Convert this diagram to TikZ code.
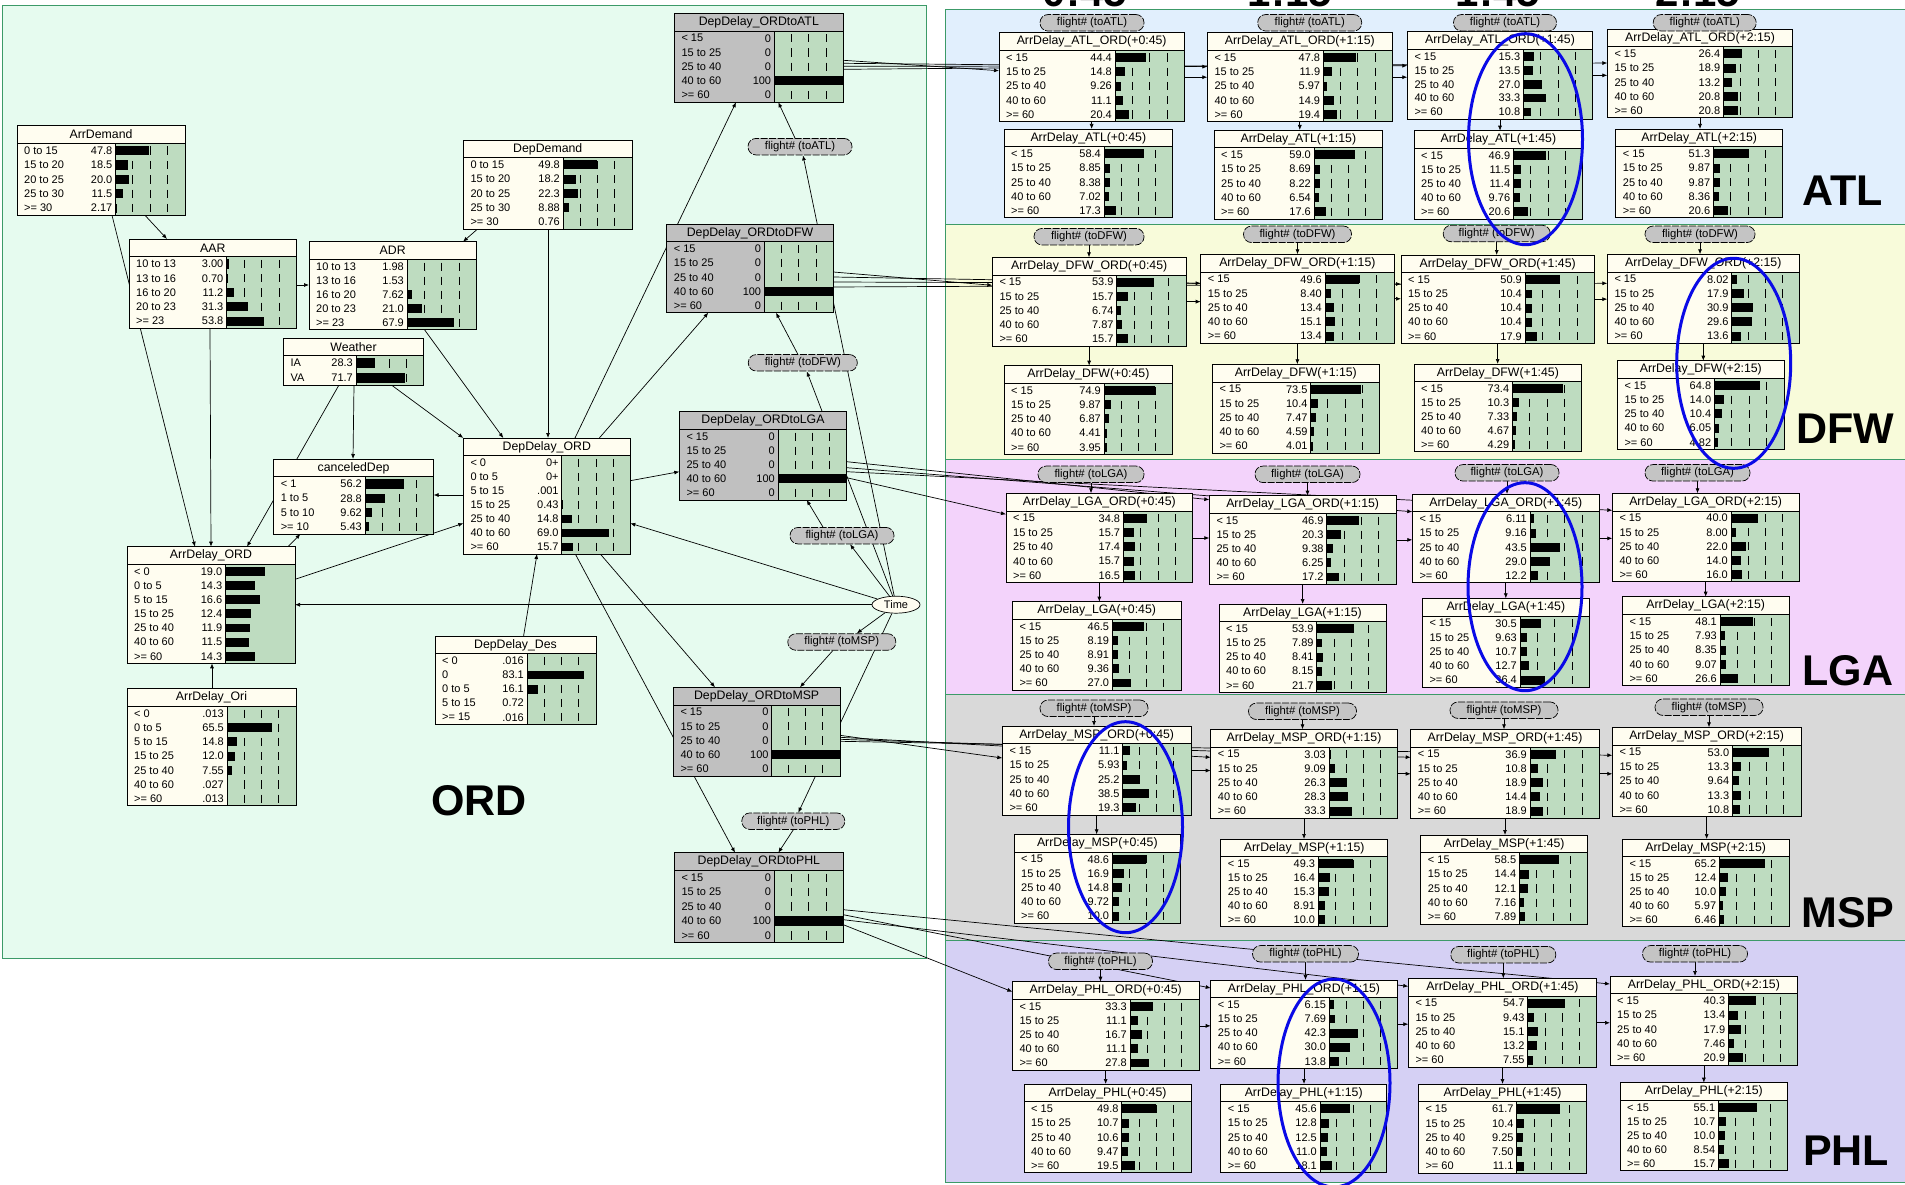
\documentclass[tikz,border=0pt]{standalone}
\usepackage{fontspec}
\setmainfont{Liberation Sans}
\usetikzlibrary{arrows.meta,calc,shapes.geometric}
\pgfdeclarelayer{back}
\pgfdeclarelayer{edges}
\pgfsetlayers{back,edges,main}
\definecolor{cream}{HTML}{FFFDF0}
\definecolor{bargreen}{HTML}{BEDCC0}
\definecolor{nodegray}{HTML}{C0C0C0}
\definecolor{fltgray}{HTML}{C4C4C4}
\definecolor{ordbg}{HTML}{E6FBEF}
\definecolor{atlbg}{HTML}{E1EFFD}
\definecolor{dfwbg}{HTML}{F8FBDA}
\definecolor{lgabg}{HTML}{F3D3FB}
\definecolor{mspbg}{HTML}{D9D9D9}
\definecolor{phlbg}{HTML}{D5D0F4}
\definecolor{regline}{HTML}{3C9A68}
\definecolor{ellblue}{HTML}{0A0AE6}

\newif\ifBNticks \BNtickstrue
\def\BNmul{1}
\newcommand\BN[9][cream]{%
  \pgfmathsetmacro\BNtb{#4+17.8}%
  \pgfmathsetmacro\BNw{#5-#3}%
  \pgfmathsetmacro\BNh{#6-#4}%
  \node[inner sep=0pt,outer sep=0pt,minimum width=\BNw pt,minimum height=\BNh pt,anchor=north west] (#2) at (#3,#4) {};%
  \fill[#1] (#3,#4) rectangle (#5,\BNtb);%
  \fill[#1] (#3,\BNtb) rectangle (#7,#6);%
  \fill[bargreen] (#7,\BNtb) rectangle (#5,#6);%
  \foreach \BNla/\BNva/\BNpa [count=\BNi] in #9 {\xdef\BNn{\BNi}}%
  \pgfmathsetmacro\BNrh{(#6-\BNtb)/\BNn}%
  \foreach \BNla/\BNva/\BNpa [count=\BNi] in #9 {%
    \pgfmathsetmacro\BNrt{\BNtb+(\BNi-1)*\BNrh}%
    \pgfmathsetmacro\BNrb{\BNrt+\BNrh}%
    \pgfmathsetmacro\BNrc{(\BNrt+\BNrb)/2}%
    \ifBNticks
      \foreach \BNf in {0.25,0.5,0.75}{\draw[tickln] ({#7+\BNf*(#5-#7)},{\BNrt+3}) -- ({#7+\BNf*(#5-#7)},{\BNrb-3});}%
    \fi
    \pgfmathsetmacro\BNbl{#7+min(1,\BNpa/100*\BNmul)*(#5-#7)}%
    \fill[black] (#7,{\BNrt+2.6}) rectangle (\BNbl,{\BNrb-2.6});%
    \node[rowtxt,anchor=west] at ({#3+7},\BNrc) {\BNla};%
    \node[rowtxt,anchor=east] at ({#7-3},\BNrc) {\BNva};%
  }%
  \draw[boxln] (#3,#4) rectangle (#5,#6);%
  \draw[boxln] (#3,\BNtb) -- (#5,\BNtb);%
  \draw[boxln] (#7,\BNtb) -- (#7,#6);%
  \node[titletxt] at ({(#3+#5)/2},{(#4+\BNtb)/2}) {#8};%
}
\def\ADmk#1,#2,#3,#4,#5\relax{\def\currows{< 15/#1/#1,15 to 25/#2/#2,25 to 40/#3/#3,40 to 60/#4/#4,>= 60/#5/#5}}
\newcommand\AD[8]{\ADmk#8\relax\BN{#1}{#2}{#3}{#4}{#5}{#6}{#7}{\currows}}
\def\ordrows{< 15/0/0,15 to 25/0/0,25 to 40/0/0,40 to 60/100/100,>= 60/0/0}

\begin{document}
\begin{tikzpicture}[x=1pt,y=-1pt,
  rowtxt/.style={inner sep=0pt,font=\fontsize{11}{12}\selectfont},
  titletxt/.style={inner sep=0pt,font=\fontsize{12.3}{14}\selectfont},
  boxln/.style={draw=black,line width=0.9pt},
  tickln/.style={draw=black,line width=0.9pt},
  flt/.style={draw=black,fill=fltgray,rounded corners=8pt,minimum height=16.5pt,inner sep=0pt,line width=0.7pt,dash pattern=on 7pt off 1.5pt,font=\fontsize{11.3}{12}\selectfont},
  conn/.style={draw=black,line width=0.7pt,-{Latex[length=5pt,width=4pt]}},
  regbox/.style={draw=regline,line width=1pt},
  reglbl/.style={inner sep=0pt,font=\fontsize{43}{50}\selectfont\bfseries},
  hdr/.style={inner sep=0pt,font=\fontsize{42}{48}\selectfont\bfseries},
  blueell/.style={draw=ellblue,line width=3pt}]
\useasboundingbox (0,0) rectangle (1905,1185);
\begin{pgfonlayer}{back}
  \fill[white] (0,0) rectangle (1905,1185);
  \draw[regbox,fill=ordbg] (2,5.5) rectangle (926.5,958.5);
  \draw[regbox,fill=atlbg] (945,9.3) rectangle (1915,224);
  \draw[regbox,fill=dfwbg] (945,224) rectangle (1915,459);
  \draw[regbox,fill=lgabg] (945,459) rectangle (1915,694.3);
  \draw[regbox,fill=mspbg] (945,694.3) rectangle (1915,940.7);
  \draw[regbox,fill=phlbg] (945,940.7) rectangle (1915,1182);
\end{pgfonlayer}

\begin{scope}
\clip (0,0) rectangle (1905,1185);
\node[hdr,anchor=base] (H1) at (1085,7) {0:45};
\node[hdr,anchor=base] (H2) at (1290,7) {1:15};
\node[hdr,anchor=base] (H3) at (1498,7) {1:45};
\node[hdr,anchor=base] (H4) at (1698,7) {2:15};
\end{scope}

% region labels
\node[reglbl] (lORD) at (479,801) {ORD};
\node[reglbl] (lATL) at (1843,191) {ATL};
\node[reglbl] (lDFW) at (1845,428.5) {DFW};
\node[reglbl] (lLGA) at (1848,671) {LGA};
\node[reglbl] (lMSP) at (1848,913) {MSP};
\node[reglbl] (lPHL) at (1846,1151) {PHL};

% ---------------- ORD network ----------------
\def\currows{0 to 15/47.8/47.8,15 to 20/18.5/18.5,20 to 25/20.0/20,25 to 30/11.5/11.5,>= 30/2.17/2.17}
\BN{ArrDemand}{17}{125.7}{185}{215.3}{115.5}{ArrDemand}{\currows}
\def\currows{10 to 13/3.00/3,13 to 16/0.70/0.7,16 to 20/11.2/11.2,20 to 23/31.3/31.3,>= 23/53.8/53.8}
\BN{AAR}{129}{239}{296.7}{328.3}{226.5}{AAR}{\currows}
\def\currows{10 to 13/1.98/1.98,13 to 16/1.53/1.53,16 to 20/7.62/7.62,20 to 23/21.0/21,>= 23/67.9/67.9}
\BN{ADR}{309}{241.7}{476.3}{329.7}{407}{ADR}{\currows}
\def\currows{0 to 15/49.8/49.8,15 to 20/18.2/18.2,20 to 25/22.3/22.3,25 to 30/8.88/8.88,>= 30/0.76/0.76}
\BN{DepDemand}{463.3}{140}{632.2}{229}{563}{DepDemand}{\currows}
\def\currows{IA/28.3/28.3,VA/71.7/71.7}
\BN{Weather}{283.3}{338}{423.7}{385.3}{356}{Weather}{\currows}
\def\currows{< 1/56.2/56.2,1 to 5/28.8/28.8,5 to 10/9.62/9.62,>= 10/5.43/5.43}
\BN{canceledDep}{273.6}{459}{433.6}{534}{365}{canceledDep}{\currows}
\def\BNmul{3}\BNticksfalse
\def\currows{< 0/19.0/19,0 to 5/14.3/14.3,5 to 15/16.6/16.6,15 to 25/12.4/12.4,25 to 40/11.9/11.9,40 to 60/11.5/11.5,>= 60/14.3/14.3}
\BN{ArrDelayORD}{127}{546.7}{295}{663.3}{225.4}{ArrDelay\_ORD}{\currows}
\def\BNmul{1}\BNtickstrue
\def\currows{< 0/.013/0.013,0 to 5/65.5/65.5,5 to 15/14.8/14.8,15 to 25/12.0/12,25 to 40/7.55/7.55,40 to 60/.027/0.027,>= 60/.013/0.013}
\BN{ArrDelayOri}{127}{688.7}{296}{805.7}{227}{ArrDelay\_Ori}{\currows}
\def\currows{< 0/0+/0,0 to 5/0+/0,5 to 15/.001/0.001,15 to 25/0.43/0.43,25 to 40/14.8/14.8,40 to 60/69.0/69,>= 60/15.7/15.7}
\BN{DepDelayORD}{463.3}{438}{630.3}{554}{561.8}{DepDelay\_ORD}{\currows}
\def\currows{< 0/.016/0.016,0/83.1/83.1,0 to 5/16.1/16.1,5 to 15/0.72/0.72,>= 15/.016/0.016}
\BN{DepDelayDes}{435}{636}{596}{724.3}{527}{DepDelay\_Des}{\currows}
\BN[nodegray]{toATL}{674.3}{13.3}{843.3}{102.3}{774.3}{DepDelay\_ORDtoATL}{\ordrows}
\BN[nodegray]{toDFW}{666.7}{224}{833.3}{312.7}{764.3}{DepDelay\_ORDtoDFW}{\ordrows}
\BN[nodegray]{toLGA}{679.3}{411.7}{846.7}{500}{778}{DepDelay\_ORDtoLGA}{\ordrows}
\BN[nodegray]{toMSP}{673.3}{687.3}{840}{776}{771.7}{DepDelay\_ORDtoMSP}{\ordrows}
\BN[nodegray]{toPHL}{674.3}{852.7}{843.3}{942.7}{774.3}{DepDelay\_ORDtoPHL}{\ordrows}

\node[flt,minimum width=104pt] (fA0) at (800,146.7) {flight\# (toATL)};
\node[flt,minimum width=109pt] (fD0) at (802.8,362.8) {flight\# (toDFW)};
\node[flt,minimum width=104pt] (fL0) at (842,535.7) {flight\# (toLGA)};
\node[flt,minimum width=108pt] (fM0) at (841.8,642) {flight\# (toMSP)};
\node[flt,minimum width=103pt] (fP0) at (793.3,821.2) {flight\# (toPHL)};
\node[draw=black,fill=cream,ellipse,minimum width=48pt,minimum height=17pt,inner sep=0pt,line width=0.7pt,font=\fontsize{11}{12}\selectfont] (Time) at (896,604.7) {Time};

% ---------------- ATL ----------------
\AD{AO1}{999}{32.7}{1184.3}{121.7}{1115}{ArrDelay\_ATL\_ORD(+0:45)}{44.4,14.8,9.26,11.1,20.4}
\AD{A1}{1004}{129}{1172.7}{217.7}{1104}{ArrDelay\_ATL(+0:45)}{58.4,8.85,8.38,7.02,17.3}
\AD{AO2}{1207.3}{32.7}{1392.3}{121.7}{1323.3}{ArrDelay\_ATL\_ORD(+1:15)}{47.8,11.9,5.97,14.9,19.4}
\AD{A2}{1214}{130}{1382.7}{219}{1314}{ArrDelay\_ATL(+1:15)}{59.0,8.69,8.22,6.54,17.6}
\AD{AO3}{1407.3}{31.7}{1592.7}{119}{1523.3}{ArrDelay\_ATL\_ORD(+1:45)}{15.3,13.5,27.0,33.3,10.8}
\AD{A3}{1414}{130.7}{1582.7}{219}{1513.3}{ArrDelay\_ATL(+1:45)}{46.9,11.5,11.4,9.76,20.6}
\AD{AO4}{1607.3}{29}{1792.7}{117.7}{1723.3}{ArrDelay\_ATL\_ORD(+2:15)}{26.4,18.9,13.2,20.8,20.8}
\AD{A4}{1615.7}{129}{1782.7}{217.7}{1713.3}{ArrDelay\_ATL(+2:15)}{51.3,9.87,9.87,8.36,20.6}
% ---------------- DFW ----------------
\AD{DO1}{992.3}{257.3}{1186}{346}{1116.7}{ArrDelay\_DFW\_ORD(+0:45)}{53.9,15.7,6.74,7.87,15.7}
\AD{D1}{1004}{365.7}{1172.7}{454.3}{1104}{ArrDelay\_DFW(+0:45)}{74.9,9.87,6.87,4.41,3.95}
\AD{DO2}{1200.7}{254.3}{1394}{343.3}{1325}{ArrDelay\_DFW\_ORD(+1:15)}{49.6,8.40,13.4,15.1,13.4}
\AD{D2}{1212.3}{364.3}{1379.3}{453.3}{1310.7}{ArrDelay\_DFW(+1:15)}{73.5,10.4,7.47,4.59,4.01}
\AD{DO3}{1401}{255}{1594.3}{343.3}{1525}{ArrDelay\_DFW\_ORD(+1:45)}{50.9,10.4,10.4,10.4,17.9}
\AD{D3}{1414}{364}{1581.7}{451.7}{1512.3}{ArrDelay\_DFW(+1:45)}{73.4,10.3,7.33,4.67,4.29}
\AD{DO4}{1607.3}{254.3}{1799.3}{343.3}{1731.7}{ArrDelay\_DFW\_ORD(+2:15)}{8.02,17.9,30.9,29.6,13.6}
\AD{D4}{1617.3}{360.7}{1784.3}{449.3}{1714.3}{ArrDelay\_DFW(+2:15)}{64.8,14.0,10.4,6.05,4.82}
% ---------------- LGA ----------------
\AD{LO1}{1006}{493.3}{1192.7}{582.7}{1123.3}{ArrDelay\_LGA\_ORD(+0:45)}{34.8,15.7,17.4,15.7,16.5}
\AD{L1}{1012.3}{601.7}{1181}{690}{1112.3}{ArrDelay\_LGA(+0:45)}{46.5,8.19,8.91,9.36,27.0}
\AD{LO2}{1209.3}{495.7}{1396}{584}{1326.7}{ArrDelay\_LGA\_ORD(+1:15)}{46.9,20.3,9.38,6.25,17.2}
\AD{L2}{1219}{604}{1386}{692.3}{1316.7}{ArrDelay\_LGA(+1:15)}{53.9,7.89,8.41,8.15,21.7}
\AD{LO3}{1412.3}{494}{1599.3}{582.7}{1530}{ArrDelay\_LGA\_ORD(+1:45)}{6.11,9.16,43.5,29.0,12.2}
\AD{L3}{1422.3}{598.3}{1589.3}{687.3}{1520}{ArrDelay\_LGA(+1:45)}{30.5,9.63,10.7,12.7,36.4}
\AD{LO4}{1612.3}{493.3}{1799}{581.7}{1731}{ArrDelay\_LGA\_ORD(+2:15)}{40.0,8.00,22.0,14.0,16.0}
\AD{L4}{1622.3}{596.7}{1789}{685.7}{1720}{ArrDelay\_LGA(+2:15)}{48.1,7.93,8.35,9.07,26.6}
% ---------------- MSP ----------------
\AD{MO1}{1002.3}{726}{1191}{815}{1122.7}{ArrDelay\_MSP\_ORD(+0:45)}{11.1,5.93,25.2,38.5,19.3}
\AD{M1}{1014}{834.3}{1180.7}{923.3}{1112.3}{ArrDelay\_MSP(+0:45)}{48.6,16.9,14.8,9.72,10.0}
\AD{MO2}{1210.7}{729.3}{1397.3}{818.3}{1329}{ArrDelay\_MSP\_ORD(+1:15)}{3.03,9.09,26.3,28.3,33.3}
\AD{M2}{1220.7}{839}{1387.7}{926.7}{1318.3}{ArrDelay\_MSP(+1:15)}{49.3,16.4,15.3,8.91,10.0}
\AD{MO3}{1410.7}{729.3}{1599.3}{818.3}{1530}{ArrDelay\_MSP\_ORD(+1:45)}{36.9,10.8,18.9,14.4,18.9}
\AD{M3}{1420.7}{835}{1587.7}{924}{1519.3}{ArrDelay\_MSP(+1:45)}{58.5,14.4,12.1,7.16,7.89}
\AD{MO4}{1612.3}{727.3}{1801}{816.7}{1732.3}{ArrDelay\_MSP\_ORD(+2:15)}{53.0,13.3,9.64,13.3,10.8}
\AD{M4}{1622.3}{839}{1789}{926.7}{1719.3}{ArrDelay\_MSP(+2:15)}{65.2,12.4,10.0,5.97,6.46}
% ---------------- PHL ----------------
\AD{PO1}{1012.3}{981.7}{1199}{1070}{1130}{ArrDelay\_PHL\_ORD(+0:45)}{33.3,11.1,16.7,11.1,27.8}
\AD{P1}{1024}{1084}{1191}{1172.7}{1121.7}{ArrDelay\_PHL(+0:45)}{49.8,10.7,10.6,9.47,19.5}
\AD{PO2}{1210.7}{980}{1397.3}{1068.3}{1329.3}{ArrDelay\_PHL\_ORD(+1:15)}{6.15,7.69,42.3,30.0,13.8}
\AD{P2}{1220.7}{1084}{1386.7}{1172.7}{1320}{ArrDelay\_PHL(+1:15)}{45.6,12.8,12.5,11.0,18.1}
\AD{PO3}{1408.3}{978.3}{1596.7}{1067.3}{1527.7}{ArrDelay\_PHL\_ORD(+1:45)}{54.7,9.43,15.1,13.2,7.55}
\AD{P3}{1418.3}{1084}{1586.7}{1173.3}{1516.7}{ArrDelay\_PHL(+1:45)}{61.7,10.4,9.25,7.50,11.1}
\AD{PO4}{1610}{976}{1797.7}{1065}{1728.3}{ArrDelay\_PHL\_ORD(+2:15)}{40.3,13.4,17.9,7.46,20.9}
\AD{P4}{1620}{1082.7}{1787.7}{1170.7}{1718.3}{ArrDelay\_PHL(+2:15)}{55.1,10.7,10.0,8.54,15.7}

% flight nodes on the right
\foreach \nm/\px/\py/\fw/\dst in {fA1/1092/22.8/104/ATL,fA2/1309.7/22.8/104/ATL,fA3/1505/22.8/103/ATL,fA4/1704.7/22.8/103/ATL,
  fD1/1089/236.7/110/DFW,fD2/1297.5/234.3/108/DFW,fD3/1496.7/233.5/107/DFW,fD4/1700/234.3/110/DFW,
  fL1/1091/474.3/106/LGA,fL2/1307.5/474.3/105/LGA,fL3/1507/472.8/104/LGA,fL4/1697.5/472.8/105/LGA,
  fM1/1094/708.3/108/MSP,fM2/1302.5/711.3/108/MSP,fM3/1504/710.2/108/MSP,fM4/1709/707.2/108/MSP,
  fP1/1100.5/961.3/104/PHL,fP2/1305.5/953.8/106/PHL,fP3/1503.3/954.7/105/PHL,fP4/1695/953.8/105/PHL}
  {\node[flt,minimum width=\fw pt] (\nm) at (\px,\py) {flight\# (to\dst)};}

% ---------------- connectors ----------------
\begin{pgfonlayer}{edges}
\draw[conn] ($(ArrDemand.south west)+(128,0)$) -- ($(AAR.north west)+(38,0)$);
\draw[conn] ($(ArrDemand.south west)+(95,0)$) -- ($(ArrDelayORD.north west)+(68,0)$);
\draw[conn] ($(AAR.south west)+(81,0)$) -- ($(ArrDelayORD.north west)+(84,0)$);
\draw[conn] ($(Weather.south west)+(55.5,0)$) -- ($(ArrDelayORD.north west)+(120,0)$);
\draw[conn] ($(AAR.north east)+(0,46)$) -- ($(ADR.north west)+(0,43.3)$);
\draw[conn] ($(DepDemand.south west)+(14.3,0)$) -- ($(ADR.north west)+(154,0)$);
\draw[conn] ($(DepDemand.south west)+(84.7,0)$) -- ($(DepDelayORD.north west)+(84.7,0)$);
\draw[conn] ($(ADR.south west)+(115.5,0)$) -- ($(DepDelayORD.north west)+(40,0)$);
\draw[conn] ($(Weather.south west)+(70.7,0)$) -- ($(canceledDep.north west)+(79.4,0)$);
\draw[conn] ($(Weather.south west)+(108.5,0)$) -- (DepDelayORD.north west);
\draw[conn] ($(DepDelayORD.north west)+(0,57)$) -- ($(canceledDep.north east)+(0,36)$);
\draw[conn] ($(ArrDelayORD.north east)+(-7,0)$) -- ($(canceledDep.south west)+(26.8,0)$);
\draw[conn] ($(ArrDelayORD.north east)+(0,32.6)$) -- ($(DepDelayORD.north west)+(0,85.3)$);
\draw[conn] ($(ArrDelayOri.north west)+(85,0)$) -- ($(ArrDelayORD.south west)+(85,0)$);
\draw[conn] (Time) -- (Time -| ArrDelayORD.east);
\draw[conn] ($(DepDelayDes.north west)+(88.6,0)$) -- ($(DepDelayORD.south west)+(73.7,0)$);
\draw[conn] ($(DepDelayORD.north west)+(111.7,0)$) -- ($(toATL.south west)+(61.7,0)$);
\draw[conn] ($(DepDelayORD.north west)+(136,0)$) -- ($(toDFW.south west)+(41.6,0)$);
\draw[conn] ($(DepDelayORD.north east)+(0,42.7)$) -- ($(toLGA.north west)+(0,60)$);
\draw[conn] ($(DepDelayORD.south west)+(137,0)$) -- ($(toMSP.north west)+(41.7,0)$);
\draw[conn] ($(DepDelayORD.south west)+(112,0)$) -- ($(toPHL.north west)+(60.7,0)$);
\draw[conn] (Time) -- ($(DepDelayORD.north east)+(0,85.3)$);
\draw[conn] (Time) -- ($(fA0.south)+(3,0)$);
\draw[conn] (Time) -- ($(fD0.south)+(4,0)$);
\draw[conn] (Time) -- ($(fL0.south)+(8,0)$);
\draw[conn] (Time) -- ($(fM0.north)+(15,0)$);
\draw[conn] (Time) -- ($(fP0.north)+(5,0)$);
\draw[conn] ($(fA0.north)+(-5,0)$) -- ($(toATL.south west)+(104,0)$);
\draw[conn] ($(fD0.north)+(-5,0)$) -- ($(toDFW.south west)+(109.3,0)$);
\draw[conn] ($(fL0.north)+(-19,0)$) -- ($(toLGA.south west)+(127.4,0)$);
\draw[conn] ($(fM0.south)+(-9,0)$) -- ($(toMSP.north west)+(126.7,0)$);
\draw[conn] (fP0.south) -- ($(toPHL.north west)+(104,0)$);
% fans to the right
\foreach \c/\s/\e in {1/47/38,2/50/34,3/53/34,4/56/34}
  \draw[conn] ($(toATL.north east)+(0,\s)$) -- ($(AO\c.north west)+(0,\e)$);
\foreach \c/\s/\e in {1/48/28,2/53/29,3/58/29,4/63/29}
  \draw[conn] ($(toDFW.north east)+(0,\s)$) -- ($(DO\c.north west)+(0,\e)$);
\foreach \c/\s/\e in {1/66/21,2/50/4,3/56/17.7,4/60/17}
  \draw[conn] ($(toLGA.north east)+(0,\s)$) -- ($(LO\c.north west)+(0,\e)$);
\foreach \c/\s/\e in {1/48/32,2/50/28,3/52/28,4/54/28}
  \draw[conn] ($(toMSP.north east)+(0,\s)$) -- ($(MO\c.north west)+(0,\e)$);
\foreach \c/\s/\e in {1/72/10,2/62/8,3/67/8,4/57/8}
  \draw[conn] ($(toPHL.north east)+(0,\s)$) -- ($(PO\c.north west)+(0,\e)$);
\foreach \p in {A,D,L,M,P}{
  \foreach \a/\b in {1/2,2/3,3/4}{\draw[conn] (\p O\a.east) -- (\p O\a.east -| \p O\b.west);}
  \foreach \c in {1,2,3,4}{
    \draw[conn] (f\p\c.south) -- (f\p\c.south |- \p O\c.north);
    \draw[conn] (\p O\c.south) -- (\p O\c.south |- \p\c.north);
  }
}
\end{pgfonlayer}

% blue highlight ellipses
\draw[blueell] (1525.5,139.2) ellipse [x radius=57, y radius=105.5];
\draw[blueell] (1733.7,363.3) ellipse [x radius=57, y radius=105];
\draw[blueell] (1525,586.7) ellipse [x radius=57, y radius=104];
\draw[blueell] (1125.5,827.2) ellipse [x radius=57, y radius=105.5];
\draw[blueell] (1334,1083) ellipse [x radius=56, y radius=104];
\end{tikzpicture}
\end{document}
